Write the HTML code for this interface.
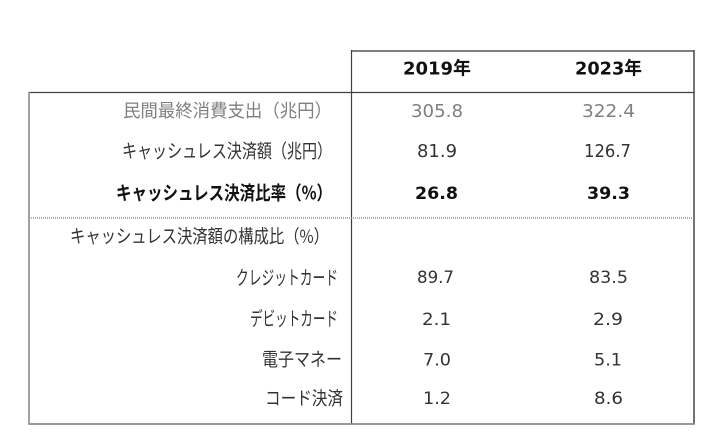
<!DOCTYPE html>
<html>
<head>
<meta charset="utf-8">
<style>
html,body{margin:0;padding:0;background:#fff;}
svg{display:block;}
text{font-family:"Liberation Sans","Noto Sans CJK JP",sans-serif;}
.n{font-family:"DejaVu Sans","Liberation Sans",sans-serif;}
.j{font-family:"Noto Sans CJK JP","Liberation Sans",sans-serif;}
</style>
</head>
<body>
<svg width="720" height="437" viewBox="0 0 720 437" xmlns="http://www.w3.org/2000/svg">
  <rect x="0" y="0" width="720" height="437" fill="#ffffff"/>
  <!-- lines -->
  <line x1="351" y1="51" x2="694.5" y2="51" stroke="#808080" stroke-width="2"/>
  <line x1="29" y1="92.5" x2="694.5" y2="92.5" stroke="#404040" stroke-width="1.2"/>
  <line x1="29" y1="92" x2="29" y2="424.5" stroke="#8a8a8a" stroke-width="1.6"/>
  <line x1="351.5" y1="50" x2="351.5" y2="424.5" stroke="#404040" stroke-width="1.2"/>
  <line x1="694" y1="50" x2="694" y2="424.5" stroke="#505050" stroke-width="1.6"/>
  <line x1="29" y1="218" x2="694" y2="218" stroke="#808080" stroke-width="1.2" stroke-dasharray="1,1"/>
  <line x1="28.5" y1="424" x2="694.5" y2="424" stroke="#8a8a8a" stroke-width="1.8"/>

  <!-- header -->
  <text x="437" y="74.5" class="n" font-size="18" font-weight="bold" fill="#111" text-anchor="middle" textLength="68" lengthAdjust="spacingAndGlyphs">2019<tspan class="j">年</tspan></text>
  <text x="608.5" y="74.5" class="n" font-size="18" font-weight="bold" fill="#111" text-anchor="middle" textLength="67" lengthAdjust="spacingAndGlyphs">2023<tspan class="j">年</tspan></text>

  <!-- labels -->
  <text x="332" y="117" class="j" font-size="18" fill="#808080" text-anchor="end" textLength="209" lengthAdjust="spacingAndGlyphs">民間最終消費支出（兆円）</text>
  <text x="332" y="157.5" class="j" font-size="19" fill="#333" text-anchor="end" textLength="210" lengthAdjust="spacingAndGlyphs">キャッシュレス決済額（兆円）</text>
  <text x="332" y="199.5" class="j" font-size="19" font-weight="bold" fill="#111" text-anchor="end" textLength="216" lengthAdjust="spacingAndGlyphs">キャッシュレス決済比率（%）</text>
  <text x="329" y="243" class="j" font-size="18.5" fill="#333" text-anchor="end" textLength="259" lengthAdjust="spacingAndGlyphs">キャッシュレス決済額の構成比（%）</text>
  <text x="338" y="284.5" class="j" font-size="19.5" fill="#333" text-anchor="end" textLength="102" lengthAdjust="spacingAndGlyphs">クレジットカード</text>
  <text x="338" y="325.5" class="j" font-size="19.5" fill="#333" text-anchor="end" textLength="88" lengthAdjust="spacingAndGlyphs">デビットカード</text>
  <text x="342" y="366" class="j" font-size="18.5" fill="#333" text-anchor="end" textLength="80" lengthAdjust="spacingAndGlyphs">電子マネー</text>
  <text x="343" y="405" class="j" font-size="18.5" fill="#333" text-anchor="end" textLength="78" lengthAdjust="spacingAndGlyphs">コード決済</text>

  <!-- numbers -->
  <text x="437" y="117" class="n" font-size="18" fill="#808080" text-anchor="middle" textLength="52" lengthAdjust="spacingAndGlyphs">305.8</text>
  <text x="608.5" y="117" class="n" font-size="18" fill="#808080" text-anchor="middle" textLength="53" lengthAdjust="spacingAndGlyphs">322.4</text>
  <text x="437" y="157" class="n" font-size="18" fill="#333" text-anchor="middle" textLength="40" lengthAdjust="spacingAndGlyphs">81.9</text>
  <text x="607.5" y="157" class="n" font-size="18" fill="#333" text-anchor="middle" textLength="47" lengthAdjust="spacingAndGlyphs">126.7</text>
  <text x="436.5" y="199" class="n" font-size="17" font-weight="bold" fill="#111" text-anchor="middle" textLength="43" lengthAdjust="spacingAndGlyphs">26.8</text>
  <text x="608.5" y="199" class="n" font-size="17" font-weight="bold" fill="#111" text-anchor="middle" textLength="43" lengthAdjust="spacingAndGlyphs">39.3</text>

  <text x="435.5" y="283" class="n" font-size="16.5" fill="#333" text-anchor="middle" textLength="37" lengthAdjust="spacingAndGlyphs">89.7</text>
  <text x="608.5" y="283" class="n" font-size="16.5" fill="#333" text-anchor="middle" textLength="39" lengthAdjust="spacingAndGlyphs">83.5</text>
  <text x="436.5" y="325" class="n" font-size="16.5" fill="#333" text-anchor="middle" textLength="29" lengthAdjust="spacingAndGlyphs">2.1</text>
  <text x="608" y="325" class="n" font-size="16.5" fill="#333" text-anchor="middle" textLength="30" lengthAdjust="spacingAndGlyphs">2.9</text>
  <text x="437" y="365.5" class="n" font-size="16.5" fill="#333" text-anchor="middle" textLength="28" lengthAdjust="spacingAndGlyphs">7.0</text>
  <text x="608" y="365.5" class="n" font-size="16.5" fill="#333" text-anchor="middle" textLength="28" lengthAdjust="spacingAndGlyphs">5.1</text>
  <text x="437" y="404" class="n" font-size="16.5" fill="#333" text-anchor="middle" textLength="28" lengthAdjust="spacingAndGlyphs">1.2</text>
  <text x="608.5" y="404" class="n" font-size="16.5" fill="#333" text-anchor="middle" textLength="29" lengthAdjust="spacingAndGlyphs">8.6</text>
</svg>
</body>
</html>
